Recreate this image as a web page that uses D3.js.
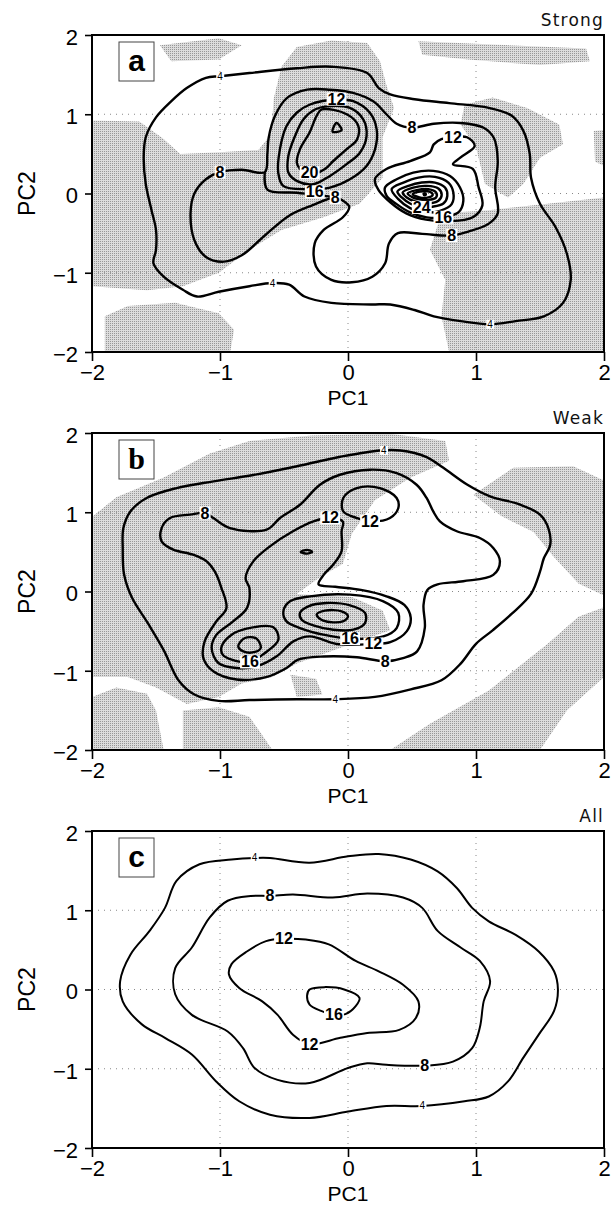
<!DOCTYPE html>
<html>
<head>
<meta charset="utf-8">
<script src="https://cdn.jsdelivr.net/npm/d3@7"></script>
<style>
  body { margin: 0; background: #fff; }
</style>
</head>
<body>
<svg id="chart" width="611" height="1206"></svg>
<script>
// ---------- data (PC1, PC2) ----------

// panel a : Strong
const aShade = [
  [[-1.47,1.87],[-1.01,1.96],[-0.83,1.87],[-1.01,1.69],[-1.38,1.67]],
  [[-2,0.92],[-1.63,0.91],[-1.45,0.70],[-1.31,0.50],[-1.0,0.52],[-0.70,0.55],[-0.60,0.75],[-0.58,1.20],[-0.52,1.60],[-0.40,1.85],[-0.13,1.93],[0.15,1.90],[0.25,1.67],[0.30,1.37],[0.36,1.08],[0.27,0.71],[0.27,0.20],[0.09,-0.13],[-0.19,-0.30],[-0.52,-0.46],[-0.77,-0.71],[-1.01,-1.0],[-1.29,-1.17],[-1.57,-1.22],[-2,-1.17]],
  [[-1.90,-1.55],[-1.72,-1.42],[-1.35,-1.38],[-1.01,-1.51],[-0.89,-1.72],[-0.92,-2],[-1.90,-2]],
  [[0.55,1.92],[1.86,1.83],[1.89,1.67],[1.50,1.62],[0.94,1.69],[0.58,1.75]],
  [[0.91,1.12],[1.13,1.21],[1.40,1.08],[1.65,0.87],[1.68,0.62],[1.50,0.45],[1.37,0.12],[1.25,-0.05],[1.07,0.12],[1.0,0.58],[0.88,0.87]],
  [[0.73,-0.25],[1.10,-0.21],[1.56,-0.13],[2,-0.05],[2,-2],[0.79,-2],[0.73,-1.55],[0.76,-1.09],[0.64,-0.71]],
  [[1.92,0.79],[2,0.80],[2,0.35],[1.93,0.40]]
];
const aC4 = [[-1.11,1.46],[-1.0,1.48],[-0.77,1.52],[-0.40,1.58],[-0.13,1.60],[0.15,1.52],[0.24,1.33],[0.33,1.25],[0.52,1.19],[0.79,1.14],[1.10,1.08],[1.28,0.98],[1.37,0.79],[1.42,0.50],[1.43,0.20],[1.50,-0.13],[1.62,-0.42],[1.71,-0.76],[1.74,-1.09],[1.68,-1.38],[1.53,-1.55],[1.31,-1.61],[1.11,-1.65],[0.88,-1.61],[0.67,-1.55],[0.52,-1.47],[0.33,-1.40],[0.18,-1.40],[-0.13,-1.38],[-0.34,-1.30],[-0.46,-1.15],[-0.59,-1.13],[-0.77,-1.17],[-1.01,-1.24],[-1.18,-1.30],[-1.29,-1.215],[-1.44,-1.05],[-1.52,-0.88],[-1.50,-0.71],[-1.50,-0.46],[-1.535,-0.21],[-1.58,0.12],[-1.596,0.455],[-1.58,0.71],[-1.50,0.96],[-1.38,1.165],[-1.26,1.33]];
const aC8 = [[-1.0,0.27],[-0.83,0.30],[-0.65,0.27],[-0.63,0.50],[-0.62,0.70],[-0.57,0.98],[-0.48,1.20],[-0.32,1.31],[-0.14,1.31],[0.04,1.27],[0.20,1.16],[0.30,1.00],[0.38,0.88],[0.50,0.83],[0.67,0.88],[0.88,0.89],[1.06,0.83],[1.14,0.70],[1.17,0.41],[1.15,0.08],[1.17,-0.25],[1.10,-0.38],[0.94,-0.48],[0.81,-0.53],[0.58,-0.51],[0.39,-0.50],[0.32,-0.63],[0.29,-0.88],[0.19,-1.05],[0.03,-1.12],[-0.13,-1.09],[-0.25,-0.92],[-0.26,-0.63],[-0.19,-0.46],[-0.04,-0.30],[0.01,-0.17],[-0.04,-0.09],[-0.10,-0.05],[-0.28,-0.15],[-0.46,-0.28],[-0.65,-0.53],[-0.83,-0.78],[-0.97,-0.86],[-1.11,-0.80],[-1.20,-0.59],[-1.23,-0.25],[-1.20,0.0],[-1.11,0.18]];
const aC8b = [[-0.65,0.27],[-0.63,0.05],[-0.40,0.01],[-0.22,-0.02],[-0.10,-0.05]];
const aC12L = [[-0.084,1.186],[0.041,1.165],[0.171,1.019],[0.224,0.809],[0.211,0.557],[0.145,0.348],[0.015,0.18],[-0.141,0.075],[-0.323,0.054],[-0.506,0.096],[-0.545,0.264],[-0.532,0.557],[-0.48,0.851],[-0.401,1.019],[-0.297,1.123]];
const aC16L = [[-0.167,1.10],[0.015,1.08],[0.119,0.935],[0.145,0.725],[0.093,0.515],[-0.011,0.37],[-0.141,0.222],[-0.271,0.117],[-0.401,0.159],[-0.466,0.264],[-0.466,0.474],[-0.414,0.725],[-0.349,0.935],[-0.258,1.06]];
const aC20L = [[-0.205,1.06],[-0.01,1.0],[0.08,0.855],[0.07,0.68],[-0.01,0.56],[-0.115,0.41],[-0.18,0.31],[-0.30,0.24],[-0.375,0.31],[-0.40,0.39],[-0.375,0.56],[-0.30,0.77],[-0.245,0.98]];
const aC24L = [[-0.12,0.78],[-0.05,0.80],[-0.09,0.89]];
const aC12R = [[0.73,0.685],[0.67,0.62],[0.64,0.52],[0.485,0.41],[0.30,0.31],[0.21,0.18],[0.24,0.04],[0.33,-0.11],[0.455,-0.25],[0.61,-0.33],[0.79,-0.35],[0.975,-0.30],[1.05,-0.15],[1.02,0.08],[0.975,0.31],[0.82,0.37],[0.88,0.455],[0.99,0.60],[0.93,0.71],[0.82,0.71]];
const aC16R = [[0.289,0.075],[0.38,0.18],[0.51,0.264],[0.667,0.285],[0.797,0.22],[0.875,0.075],[0.901,-0.092],[0.862,-0.239],[0.745,-0.302],[0.615,-0.302],[0.485,-0.239],[0.38,-0.134],[0.302,-0.029]];
const aC20R = [[0.341,0.055],[0.433,0.138],[0.55,0.201],[0.68,0.21],[0.784,0.138],[0.823,0.013],[0.81,-0.134],[0.719,-0.218],[0.602,-0.239],[0.485,-0.185],[0.393,-0.071]];
const aC24R = [[0.386,0.025],[0.472,0.096],[0.576,0.138],[0.68,0.138],[0.758,0.075],[0.776,-0.029],[0.745,-0.126],[0.654,-0.168],[0.576,-0.176],[0.485,-0.126],[0.42,-0.05]];
const aC28R = [[0.427,0.013],[0.51,0.075],[0.615,0.096],[0.706,0.063],[0.732,-0.017],[0.706,-0.092],[0.615,-0.126],[0.524,-0.1],[0.459,-0.05]];
const aC32R = [[0.466,0.0],[0.537,0.042],[0.628,0.055],[0.688,0.013],[0.688,-0.05],[0.628,-0.08],[0.55,-0.071],[0.498,-0.042]];
const aC36R = [[0.505,-0.008],[0.563,0.025],[0.636,0.025],[0.662,-0.017],[0.628,-0.05],[0.558,-0.05]];
const aPeaks = [[0.60,-0.01]];
const aLabels = [
  ["12",-0.09,1.19],["8",-1.0,0.27],["8",0.50,0.83],["8",-0.10,-0.05],["8",0.81,-0.53],
  ["12",0.82,0.71],["16",-0.26,0.02],["20",-0.30,0.26],["24",0.576,-0.176],["16",0.745,-0.30],
  ["4",-1.0,1.48],["4",-0.59,-1.13],["4",1.11,-1.65]
];

// panel b : Weak
const bShade = [
  [[-2,0.94],[-1.81,1.19],[-1.44,1.44],[-1.08,1.74],[-0.77,1.90],[-0.28,1.97],[0.33,1.99],[0.76,1.90],[0.79,1.65],[0.49,1.44],[0.21,1.15],[0.03,0.73],[-0.04,0.35],[-0.22,0.18],[-0.40,-0.03],[0.03,-0.07],[0.27,-0.24],[0.33,-0.49],[0.03,-0.66],[-0.40,-0.91],[-0.59,-1.08],[-0.83,-1.16],[-1.01,-1.33],[-1.26,-1.42],[-1.50,-1.21],[-1.72,-1.08],[-2,-1.08]],
  [[-2,-1.33],[-1.81,-1.21],[-1.57,-1.29],[-1.50,-1.50],[-1.44,-2],[-2,-2]],
  [[-1.29,-1.50],[-1.01,-1.46],[-0.77,-1.58],[-0.59,-2],[-1.29,-2]],
  [[-0.45,-1.05],[-0.25,-1.10],[-0.20,-1.30],[-0.40,-1.33]],
  [[0.33,-2],[0.64,-1.67],[1.10,-1.25],[1.56,-0.66],[1.80,-0.32],[2,-0.20],[2,-1.08],[1.71,-1.50],[1.50,-2]],
  [[0.98,1.22],[1.29,1.56],[1.76,1.58],[2,1.40],[2,-0.05],[1.80,0.10],[1.60,0.45],[1.45,0.75],[1.20,0.95]]
];
const bC4 = [[-1.70,1.01],[-1.573,1.18],[-1.34,1.305],[-1.05,1.39],[-0.74,1.47],[-0.40,1.58],[-0.06,1.70],[0.25,1.78],[0.41,1.78],[0.61,1.70],[0.745,1.56],[0.93,1.35],[1.11,1.20],[1.34,1.10],[1.50,0.97],[1.565,0.80],[1.58,0.59],[1.53,0.42],[1.50,0.25],[1.43,-0.03],[1.28,-0.28],[1.13,-0.49],[1.0,-0.66],[0.88,-0.91],[0.73,-1.12],[0.49,-1.235],[0.21,-1.33],[-0.10,-1.36],[-0.40,-1.36],[-0.77,-1.37],[-1.01,-1.38],[-1.20,-1.30],[-1.32,-1.13],[-1.44,-0.74],[-1.56,-0.41],[-1.69,-0.07],[-1.75,0.22],[-1.76,0.55],[-1.755,0.80]];
const bC8 = [[-1.117,0.99],[-1.235,0.97],[-1.39,0.927],[-1.456,0.80],[-1.456,0.633],[-1.365,0.528],[-1.21,0.464],[-1.104,0.38],[-1.04,0.25],[-0.99,0.05],[-0.95,-0.21],[-1.03,-0.38],[-1.12,-0.63],[-1.13,-0.84],[-1.05,-1.01],[-0.87,-1.11],[-0.64,-1.08],[-0.48,-0.965],[-0.39,-0.86],[-0.19,-0.82],[0.07,-0.83],[0.29,-0.88],[0.43,-0.84],[0.54,-0.755],[0.60,-0.46],[0.59,-0.17],[0.62,0.02],[0.70,0.09],[0.90,0.13],[1.135,0.21],[1.187,0.38],[1.135,0.55],[1.03,0.675],[0.85,0.76],[0.718,0.885],[0.666,1.01],[0.614,1.18],[0.536,1.347],[0.38,1.494],[0.172,1.537],[-0.063,1.473],[-0.219,1.347],[-0.375,1.095],[-0.531,0.927],[-0.636,0.78],[-0.922,0.80],[-1.052,0.927]];
const bC12 = [[-0.14,0.93],[-0.27,0.885],[-0.43,0.76],[-0.61,0.57],[-0.74,0.38],[-0.80,0.17],[-0.77,0.04],[-0.79,-0.21],[-0.90,-0.38],[-1.03,-0.55],[-1.065,-0.713],[-1.013,-0.902],[-0.87,-0.965],[-0.714,-0.944],[-0.557,-0.818],[-0.427,-0.629],[-0.297,-0.566],[-0.089,-0.662],[0.198,-0.662],[0.33,-0.64],[0.46,-0.50],[0.49,-0.33],[0.44,-0.17],[0.30,-0.06],[0.10,0.02],[-0.10,0.06],[-0.23,0.09],[-0.19,0.21],[-0.115,0.34],[-0.05,0.51],[-0.05,0.76],[-0.04,0.88]];
const bC12b = [[-0.037,1.18],[0.068,1.305],[0.25,1.305],[0.38,1.18],[0.393,1.053],[0.328,0.927],[0.172,0.885],[0.068,0.927],[-0.037,1.01]];
const bC12c = [[-0.37,0.50],[-0.32,0.525],[-0.28,0.50],[-0.32,0.478]];
const bC16L = [[-0.987,-0.692],[-0.909,-0.545],[-0.792,-0.469],[-0.583,-0.452],[-0.544,-0.608],[-0.649,-0.776],[-0.766,-0.889],[-0.909,-0.86],[-0.979,-0.797]];
const bC20L = [[-0.857,-0.692],[-0.805,-0.587],[-0.714,-0.595],[-0.682,-0.713],[-0.727,-0.763],[-0.818,-0.755]];
const bC16C = [[-0.505,-0.25],[-0.453,-0.124],[-0.297,-0.061],[0.016,-0.04],[0.276,-0.124],[0.393,-0.271],[0.38,-0.461],[0.276,-0.566],[0.016,-0.595],[-0.193,-0.545],[-0.375,-0.461],[-0.48,-0.377]];
const bC20C = [[-0.375,-0.271],[-0.31,-0.187],[-0.167,-0.145],[0.016,-0.175],[0.133,-0.271],[0.133,-0.398],[0.042,-0.482],[-0.115,-0.482],[-0.271,-0.427],[-0.362,-0.356]];
const bC24C = [[-0.245,-0.292],[-0.18,-0.242],[-0.05,-0.25],[0.0,-0.313],[-0.04,-0.377],[-0.193,-0.368]];
const bLabels = [
  ["8",-1.117,0.99],["12",-0.14,0.93],["12",0.172,0.885],["16",-0.766,-0.889],
  ["8",0.29,-0.885],["16",0.016,-0.595],["12",0.198,-0.662],
  ["4",0.28,1.78],["4",-0.10,-1.36]
];

// panel c : All
const cC4 = [[-0.73,1.66],[-0.61,1.66],[-0.30,1.60],[0.0,1.68],[0.24,1.71],[0.49,1.64],[0.70,1.49],[0.85,1.28],[0.97,1.03],[1.10,0.86],[1.31,0.69],[1.49,0.48],[1.61,0.23],[1.64,0.0],[1.61,-0.27],[1.49,-0.57],[1.37,-0.86],[1.25,-1.16],[1.10,-1.35],[0.91,-1.41],[0.58,-1.47],[0.30,-1.47],[0.0,-1.54],[-0.30,-1.62],[-0.61,-1.58],[-0.85,-1.41],[-1.03,-1.16],[-1.22,-0.82],[-1.43,-0.61],[-1.61,-0.44],[-1.76,-0.15],[-1.78,0.105],[-1.70,0.44],[-1.55,0.74],[-1.43,1.03],[-1.34,1.37],[-1.16,1.58],[-0.91,1.64]];
const cC8 = [[-0.61,1.18],[-0.43,1.20],[-0.12,1.16],[0.15,1.21],[0.43,1.16],[0.58,1.03],[0.70,0.74],[0.88,0.53],[1.03,0.36],[1.11,0.105],[1.06,-0.15],[1.03,-0.48],[0.97,-0.74],[0.82,-0.91],[0.61,-0.96],[0.30,-0.95],[0.15,-0.93],[0.0,-0.99],[-0.30,-1.18],[-0.55,-1.14],[-0.73,-0.99],[-0.82,-0.74],[-0.94,-0.53],[-1.22,-0.32],[-1.35,-0.06],[-1.35,0.27],[-1.22,0.53],[-1.08,0.91],[-0.94,1.12],[-0.76,1.18]];
const cC12 = [[-0.50,0.64],[-0.33,0.63],[-0.15,0.57],[0.06,0.36],[0.24,0.23],[0.43,0.06],[0.55,-0.15],[0.53,-0.36],[0.40,-0.51],[0.15,-0.55],[-0.06,-0.61],[-0.30,-0.69],[-0.43,-0.57],[-0.55,-0.32],[-0.67,-0.15],[-0.85,0.02],[-0.93,0.19],[-0.91,0.32],[-0.79,0.48],[-0.64,0.61]];
const cC16 = [[-0.30,0.0],[-0.18,0.03],[-0.03,0.0],[0.09,-0.105],[0.06,-0.21],[-0.02,-0.31],[-0.11,-0.32],[-0.21,-0.27],[-0.30,-0.19],[-0.32,-0.08]];
const cLabels = [
  ["4",-0.73,1.66],["4",0.58,-1.47],["8",-0.61,1.18],["8",0.60,-0.96],
  ["12",-0.50,0.64],["12",-0.30,-0.69],["16",-0.11,-0.31]
];

const axisTicks = [-2, -1, 0, 1, 2];
const gridTicks = [-1, 0, 1];

// ---------- layout ----------
const left = 92, plotW = 512, plotH = 317;

const panels = [
  {top: 35,  letter: "a", letterFont: "Liberation Sans", title: "Strong", shade: aShade,
   loops: [aC4, aC8, aC12L, aC16L, aC20L, aC24L, aC12R, aC16R, aC20R, aC24R, aC28R, aC32R, aC36R],
   opens: [aC8b], peaks: aPeaks, labels: aLabels, lw: 2.4},
  {top: 433, letter: "b", letterFont: "Liberation Serif", title: "Weak", shade: bShade,
   loops: [bC4, bC8, bC12, bC12b, bC12c, bC16L, bC20L, bC16C, bC20C, bC24C],
   opens: [], peaks: [], labels: bLabels, lw: 2.4},
  {top: 831, letter: "c", letterFont: "Liberation Sans", title: "All", shade: [],
   loops: [cC4, cC8, cC12, cC16], opens: [], peaks: [], labels: cLabels, lw: 2}
];

const svg = d3.select("#chart");
const defs = svg.append("defs");

// stipple used for the grey areas
const pat = defs.append("pattern")
  .attr("id", "stip")
  .attr("width", 2).attr("height", 2)
  .attr("patternUnits", "userSpaceOnUse");
pat.append("rect").attr("width", 2).attr("height", 2).attr("fill", "#dcdcdc");
pat.append("rect").attr("width", 1).attr("height", 1).attr("fill", "#979797");

const x = d3.scaleLinear().domain([-2, 2]).range([0, plotW]);
const y = d3.scaleLinear().domain([-2, 2]).range([plotH, 0]);

const loopLine = d3.line().x(d => x(d[0])).y(d => y(d[1])).curve(d3.curveCatmullRomClosed.alpha(0.5));
const openLine = d3.line().x(d => x(d[0])).y(d => y(d[1])).curve(d3.curveCatmullRom.alpha(0.5));
const shadeLine = d3.line().x(d => x(d[0])).y(d => y(d[1])).curve(d3.curveLinearClosed);

const fmt = d => d < 0 ? "\u2212" + Math.abs(d) : String(d);

panels.forEach((p, i) => {
  defs.append("clipPath").attr("id", "clip" + i)
    .append("rect").attr("width", plotW).attr("height", plotH);

  const g = svg.append("g").attr("transform", `translate(${left},${p.top})`);
  const plot = g.append("g").attr("clip-path", `url(#clip${i})`);

  // grey areas
  plot.selectAll("path.shade")
    .data(p.shade)
    .enter().append("path")
    .attr("class", "shade")
    .attr("d", shadeLine)
    .attr("fill", "url(#stip)")
    .attr("stroke", "none");

  // dotted grid
  gridTicks.forEach(v => {
    plot.append("line")
      .attr("x1", x(v)).attr("x2", x(v)).attr("y1", 0).attr("y2", plotH)
      .attr("stroke", "#888").attr("stroke-width", 1).attr("stroke-dasharray", "1,5");
    plot.append("line")
      .attr("x1", 0).attr("x2", plotW).attr("y1", y(v)).attr("y2", y(v))
      .attr("stroke", "#888").attr("stroke-width", 1).attr("stroke-dasharray", "1,5");
  });

  // contours
  plot.selectAll("path.loop")
    .data(p.loops)
    .enter().append("path")
    .attr("class", "loop")
    .attr("d", loopLine)
    .attr("fill", "none")
    .attr("stroke", "#000")
    .attr("stroke-width", p.lw)
    .attr("stroke-linejoin", "round");

  plot.selectAll("path.open")
    .data(p.opens)
    .enter().append("path")
    .attr("class", "open")
    .attr("d", openLine)
    .attr("fill", "none")
    .attr("stroke", "#000")
    .attr("stroke-width", p.lw);

  plot.selectAll("circle.peak")
    .data(p.peaks)
    .enter().append("circle")
    .attr("cx", d => x(d[0])).attr("cy", d => y(d[1])).attr("r", 2.2)
    .attr("fill", "#000");

  // contour labels on white
  p.labels.forEach(l => {
    const small = l[0] === "4";
    const lg = plot.append("g");
    const t = lg.append("text")
      .attr("x", x(l[1])).attr("y", y(l[2]))
      .attr("text-anchor", "middle")
      .attr("dominant-baseline", "central")
      .attr("font-family", "'Liberation Sans Narrow', 'Liberation Sans', Arial, sans-serif")
      .attr("font-weight", small ? "normal" : "bold")
      .attr("font-size", small ? 10 : 16)
      .text(l[0]);
    const bb = t.node().getBBox();
    lg.insert("rect", "text")
      .attr("x", bb.x - 1).attr("y", bb.y + (small ? 1 : 2))
      .attr("width", bb.width + 2).attr("height", bb.height - (small ? 2 : 4))
      .attr("fill", "#fff");
  });

  // frame
  g.append("rect")
    .attr("width", plotW).attr("height", plotH)
    .attr("fill", "none").attr("stroke", "#000").attr("stroke-width", 2);

  // axes
  const xa = g.append("g")
    .attr("transform", `translate(0,${plotH})`)
    .call(d3.axisBottom(x).tickValues(axisTicks).tickSize(9).tickPadding(3).tickFormat(fmt));
  const ya = g.append("g")
    .call(d3.axisLeft(y).tickValues(axisTicks).tickSize(7).tickPadding(7).tickFormat(fmt));
  [xa, ya].forEach(a => {
    a.select(".domain").remove();
    a.selectAll("line").attr("stroke-width", 1.6);
    a.selectAll("text")
      .attr("font-family", "'Liberation Sans', Arial, sans-serif")
      .attr("font-size", 22)
      .attr("fill", "#000");
  });
  ya.selectAll("text").attr("dy", "0.42em");

  // panel letter
  g.append("rect")
    .attr("x", 27).attr("y", 7).attr("width", 35).attr("height", 39)
    .attr("fill", "#fff").attr("stroke", "#444").attr("stroke-width", 1);
  g.append("text")
    .attr("x", 44.5).attr("y", 36)
    .attr("text-anchor", "middle")
    .attr("font-family", p.letterFont)
    .attr("font-weight", "bold")
    .attr("font-size", 30)
    .text(p.letter);

  // titles
  g.append("text")
    .attr("x", plotW).attr("y", -9)
    .attr("text-anchor", "end")
    .attr("font-family", "'DejaVu Sans', sans-serif")
    .attr("font-size", 17)
    .attr("letter-spacing", 1.2)
    .attr("fill", "#111")
    .text(p.title);

  g.append("text")
    .attr("x", plotW / 2).attr("y", plotH + 53)
    .attr("text-anchor", "middle")
    .attr("font-family", "'Liberation Sans', Arial, sans-serif")
    .attr("font-size", 21)
    .text("PC1");

  g.append("text")
    .attr("transform", `translate(${-57},${plotH / 2}) rotate(-90)`)
    .attr("text-anchor", "middle")
    .attr("font-family", "'Liberation Sans', Arial, sans-serif")
    .attr("font-size", 23)
    .text("PC2");
});
</script>
</body>
</html>
